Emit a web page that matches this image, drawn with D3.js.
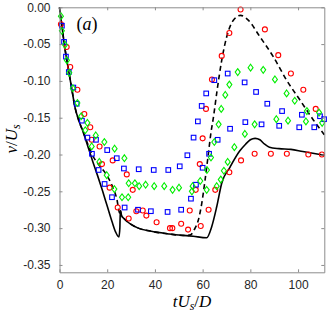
<!DOCTYPE html>
<html>
<head>
<meta charset="utf-8">
<script src="https://cdn.jsdelivr.net/npm/d3@7"></script>
<style>
  body { margin: 0; background: #fff; }
  svg { display: block; }
  .axis text { font-family: "Liberation Sans", Arial, sans-serif; font-size: 12px; fill: #262626; }
  .axis path, .axis line { stroke: #8c8c8c; }
</style>
</head>
<body>
<div id="vis"></div>
<script>
// simulation curves [tUs/D, v/Us]
var solid = [[0,0],[1,-0.025],[2,-0.05],[3.5,-0.08],[5,-0.108],[6.5,-0.136],[8,-0.153],[10,-0.170],[12,-0.190],
  [14,-0.210],[16,-0.229],[18,-0.249],[20,-0.270],[22,-0.291],[23.5,-0.305],[24.9,-0.312],[25.3,-0.300],
  [25.5,-0.276],[26,-0.283],[27,-0.287],[28,-0.290],[30,-0.295],[33,-0.300],[38,-0.304],[46,-0.308],
  [56,-0.311],[61.7,-0.313],[63.8,-0.298],[65.9,-0.271],[68,-0.239],[71.5,-0.217],[75.6,-0.195],
  [78,-0.186],[80,-0.180],[82,-0.178],[84,-0.180],[86,-0.186],[88,-0.190],[92,-0.192],[97,-0.193],
  [102,-0.196],[111,-0.201]];

var dashed = [[0,0],[1,-0.025],[2,-0.05],[3.5,-0.08],[5,-0.108],[6.5,-0.136],[8,-0.153],[10,-0.170],[12,-0.187],
  [14,-0.202],[16,-0.212],[18,-0.220],[20,-0.229],[22,-0.242],[24,-0.260],[25.3,-0.280],[25.5,-0.276],
  [26,-0.283],[27,-0.287],[28,-0.290],[30,-0.295],[33,-0.300],[38,-0.304],[46,-0.308],[53,-0.310],
  [55,-0.309],[56.5,-0.302],[58.2,-0.289],[59.6,-0.267],[61,-0.235],[62.4,-0.199],[63.5,-0.170],
  [64.5,-0.150],[66.1,-0.112],[68,-0.072],[70.1,-0.040],[72.8,-0.018],[75.9,-0.011],[79,-0.017],
  [84,-0.040],[89.6,-0.067],[95.2,-0.099],[100.8,-0.126],[106.4,-0.153],[111,-0.173]];

// experimental points
var red1 = [[0.6,-0.023],[4.5,-0.081],[10.4,-0.145],[16.8,-0.189],[22.3,-0.208],[28.2,-0.227],[30.7,-0.248],
  [34.9,-0.276],[47.3,-0.300],[54.6,-0.276],[57.1,-0.248],[58.8,-0.213],[60,-0.178],[61.4,-0.138],
  [63.9,-0.098],[68,-0.066],[71.2,-0.035],[75.9,-0.003],[86.1,-0.030],[91.7,-0.065],[97,-0.090],
  [102.2,-0.112],[107.4,-0.138]];
var red2 = [[3.0,-0.054],[7.5,-0.112],[12.9,-0.163],[13.5,-0.180],[17.8,-0.213],[21,-0.245],[24.4,-0.272],
  [29,-0.287],[32.2,-0.277],[36.4,-0.283],[40.7,-0.292],[46.3,-0.300],[51,-0.294],[53.9,-0.302],
  [59.2,-0.297],[62.5,-0.275],[65.3,-0.248],[71.2,-0.224],[76.1,-0.208],[81.8,-0.199],[88.6,-0.199],
  [95.3,-0.199],[104.3,-0.200],[110,-0.200]];

var blue1 = [[1.0,-0.025],[2.7,-0.067],[5.8,-0.109],[9.4,-0.154],[15.3,-0.180],[20,-0.194],[24,-0.205],
  [27,-0.219],[33.2,-0.220],[39.5,-0.221],[45.6,-0.221],[50.4,-0.216],[53.6,-0.201],[56.2,-0.177],
  [58,-0.155],[59.6,-0.134],[61.5,-0.117],[64.9,-0.099],[70.5,-0.090],[77.6,-0.102],[82.4,-0.115],
  [87.1,-0.131],[93.3,-0.141],[101.6,-0.146],[109.2,-0.148]];
var blue2 = [[1.9,-0.047],[3.9,-0.088],[7.2,-0.131],[11.7,-0.177],[13.6,-0.199],[16.4,-0.221],[18.9,-0.240],
  [22,-0.258],[27.3,-0.272],[32.9,-0.275],[38.3,-0.277],[45.3,-0.278],[51,-0.275],[55.1,-0.260],
  [57.2,-0.241],[60,-0.218],[62.7,-0.199],[66.3,-0.180],[71.5,-0.165],[77.9,-0.156],[84.7,-0.159],
  [92.1,-0.161],[100.5,-0.163],[106.8,-0.163],[110.9,-0.152]];

var green1 = [[0.6,-0.012],[2.3,-0.051],[4.1,-0.089],[7.5,-0.130],[11.7,-0.157],[15.2,-0.174],[18.8,-0.183],
  [23.1,-0.192],[27.2,-0.205],[29,-0.239],[31.6,-0.239],[36.1,-0.241],[43.9,-0.243],[50.1,-0.245],
  [55.8,-0.243],[59,-0.236],[61.8,-0.221],[63.5,-0.204],[64.9,-0.183],[66.7,-0.159],[67.8,-0.138],
  [69.5,-0.119],[71.2,-0.105],[74.7,-0.088],[80.1,-0.082],[85.4,-0.085],[90.3,-0.098],[95.2,-0.117],
  [98.6,-0.127],[103.7,-0.141],[108.8,-0.143]];
var green2 = [[1.0,-0.032],[3.1,-0.072],[5.6,-0.110],[9.1,-0.148],[10.8,-0.167],[13.5,-0.189],[16.7,-0.210],
  [19.8,-0.228],[23,-0.247],[26.2,-0.258],[28.8,-0.258],[33.4,-0.243],[39.7,-0.243],[47.4,-0.248],
  [55.5,-0.250],[61.7,-0.248],[65.9,-0.243],[67.6,-0.234],[68.9,-0.222],[70.5,-0.210],[73.3,-0.190],
  [77.7,-0.172],[81.8,-0.159],[90.9,-0.152],[95.8,-0.154],[103.3,-0.155],[110.1,-0.157]];

var xTicks = [0, 20, 40, 60, 80, 100];
var yTicks = [0, -0.05, -0.10, -0.15, -0.20, -0.25, -0.30, -0.35];

var width = 327,
    height = 315;

var svg = d3.select("#vis").append("svg")
    .attr("width", width)
    .attr("height", height);

var x = d3.scaleLinear().domain([0, 111]).range([59.5, 324.3]);
var y = d3.scaleLinear().domain([-0.36, 0]).range([272.3, 7.3]);

var line = d3.line()
    .x(function(d) { return x(d[0]); })
    .y(function(d) { return y(d[1]); })
    .curve(d3.curveMonotoneX);

svg.append("path")
    .datum(solid)
    .attr("d", line)
    .attr("fill", "none")
    .attr("stroke", "#000")
    .attr("stroke-width", 1.6);

svg.append("path")
    .datum(dashed)
    .attr("d", line)
    .attr("fill", "none")
    .attr("stroke", "#000")
    .attr("stroke-width", 1.6)
    .attr("stroke-dasharray", "5,3.5");

// markers
function circles(data) {
  svg.append("g").selectAll("circle")
      .data(data)
      .enter().append("circle")
      .attr("cx", function(d) { return x(d[0]); })
      .attr("cy", function(d) { return y(d[1]); })
      .attr("r", 2.5)
      .attr("fill", "none")
      .attr("stroke", "#ff0000")
      .attr("stroke-width", 1.1);
}
function squares(data) {
  svg.append("g").selectAll("rect")
      .data(data)
      .enter().append("rect")
      .attr("x", function(d) { return x(d[0]) - 2.3; })
      .attr("y", function(d) { return y(d[1]) - 2.3; })
      .attr("width", 4.6)
      .attr("height", 4.6)
      .attr("fill", "none")
      .attr("stroke", "#0000ff")
      .attr("stroke-width", 1.1);
}
function diamonds(data) {
  svg.append("g").selectAll("path")
      .data(data)
      .enter().append("path")
      .attr("d", function(d) {
        var cx = x(d[0]), cy = y(d[1]);
        return "M" + cx + "," + (cy - 3.4) + "L" + (cx + 2.5) + "," + cy +
               "L" + cx + "," + (cy + 3.4) + "L" + (cx - 2.5) + "," + cy + "Z";
      })
      .attr("fill", "none")
      .attr("stroke", "#00ee00")
      .attr("stroke-width", 1.1);
}

circles(red1); circles(red2);
squares(blue1); squares(blue2);
diamonds(green1); diamonds(green2);

// axes box with inward ticks
var fmt = function(d) { return d.toFixed(2); };

svg.append("g").attr("class", "axis")
    .attr("transform", "translate(0," + y.range()[0] + ")")
    .call(d3.axisBottom(x).tickValues(xTicks).tickSizeInner(-3).tickSizeOuter(0).tickPadding(8));
svg.append("g").attr("class", "axis")
    .attr("transform", "translate(0," + y.range()[1] + ")")
    .call(d3.axisTop(x).tickValues(xTicks).tickSizeInner(-3).tickSizeOuter(0).tickFormat(""));
svg.append("g").attr("class", "axis")
    .attr("transform", "translate(" + x.range()[0] + ",0)")
    .call(d3.axisLeft(y).tickValues(yTicks).tickSizeInner(-3).tickSizeOuter(0).tickPadding(9).tickFormat(fmt));
svg.append("g").attr("class", "axis")
    .attr("transform", "translate(" + x.range()[1] + ",0)")
    .call(d3.axisRight(y).tickValues(yTicks).tickSizeInner(-3).tickSizeOuter(0).tickFormat(""));

// labels
var serif = "'Liberation Serif', 'Times New Roman', serif";

var xl = svg.append("text")
    .attr("x", 192)
    .attr("y", 306.5)
    .attr("text-anchor", "middle")
    .style("font-family", serif)
    .style("font-size", "17px")
    .style("font-style", "italic");
xl.append("tspan").text("tU");
xl.append("tspan").attr("dy", 3).style("font-size", "12px").text("s");
xl.append("tspan").attr("dy", -3).style("font-style", "normal").text("/");
xl.append("tspan").text("D");

var yl = svg.append("text")
    .attr("transform", "translate(17,139) rotate(-90)")
    .attr("text-anchor", "middle")
    .style("font-family", serif)
    .style("font-size", "17px")
    .style("font-style", "italic");
yl.append("tspan").text("v");
yl.append("tspan").style("font-style", "normal").text("/");
yl.append("tspan").text("U");
yl.append("tspan").attr("dy", 3).style("font-size", "12px").text("s");

var al = svg.append("text")
    .attr("x", 76.5)
    .attr("y", 30)
    .style("font-family", serif)
    .style("font-size", "18px");
al.append("tspan").text("(");
al.append("tspan").style("font-style", "italic").text("a");
al.append("tspan").text(")");
</script>
</body>
</html>
